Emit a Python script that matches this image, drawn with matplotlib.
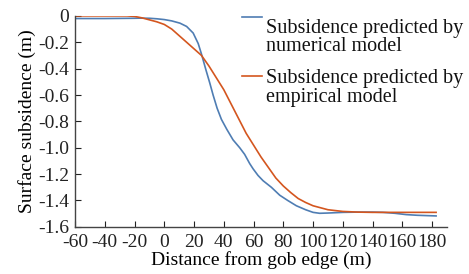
import matplotlib.pyplot as plt
from matplotlib.lines import Line2D

plt.rcParams['font.family'] = 'Liberation Serif'

# numerical model (blue)
x_num = [-60, -40, -20, -16, -10, -5, 0, 5, 10.5, 15, 19.4, 22.8, 25, 28, 30.6, 32.8, 35.5,
         38.4, 42, 46.2, 50.7, 54, 57.4, 59.7, 63, 66.4, 72, 77.6, 83, 88.8, 95, 100, 104.4,
         110, 120, 130, 140, 147, 155, 162.6, 170, 182.7]
y_num = [-0.02, -0.02, -0.018, -0.017, -0.018, -0.022, -0.028, -0.038, -0.055, -0.08, -0.13,
         -0.21, -0.29, -0.41, -0.51, -0.6, -0.7, -0.785, -0.86, -0.94, -1.0, -1.05, -1.12,
         -1.16, -1.21, -1.25, -1.30, -1.36, -1.40, -1.44, -1.47, -1.49, -1.497, -1.495,
         -1.49, -1.488, -1.488, -1.49, -1.497, -1.507, -1.512, -1.517]

# empirical model (orange)
x_emp = [-60, -40, -25, -20, -15, -10, -5, 0, 5, 10, 15, 20, 25, 30, 35, 40, 45, 50, 55,
         60, 65, 70, 75, 80, 85, 90, 95, 100, 110, 120, 130, 140, 160, 182.7]
y_emp = [0.0, 0.0, 0.0, -0.004, -0.015, -0.03, -0.045, -0.065, -0.1, -0.15, -0.2, -0.25,
         -0.3, -0.38, -0.47, -0.56, -0.67, -0.78, -0.89, -0.98, -1.07, -1.15, -1.23, -1.29,
         -1.34, -1.385, -1.415, -1.44, -1.47, -1.483, -1.488, -1.49, -1.49, -1.49]

xticks = list(range(-60, 181, 20))
yticks = [0, -0.2, -0.4, -0.6, -0.8, -1.0, -1.2, -1.4, -1.6]
ylabels = ['0', '-0.2', '-0.4', '-0.6', '-0.8', '-1.0', '-1.2', '-1.4', '-1.6']

blue = '#4f7db3'
orange = '#d4561f'

fig = plt.figure(figsize=(4.69, 2.74), dpi=100)
ax = fig.add_axes([0.16, 0.172, 0.793, 0.77])

ax.plot(x_num, y_num, color=blue, lw=1.2)
ax.plot(x_emp, y_emp, color=orange, lw=1.2)

ax.set_xlim(-60, 190)
ax.set_ylim(-1.6, 0)
ax.set_xticks(xticks)
ax.set_xticklabels([str(t) for t in xticks])
ax.set_yticks(yticks)
ax.set_yticklabels(ylabels)
ax.tick_params(direction='in', length=4, labelsize=14, colors='#222222')
ax.tick_params(axis='x', pad=5)
ax.tick_params(axis='y', pad=4)
for s in ['top', 'right']:
    ax.spines[s].set_visible(False)
for s in ['left', 'bottom']:
    ax.spines[s].set_color('#444444')
    ax.spines[s].set_linewidth(1.0)

ax.set_xlabel('Distance from gob edge (m)', fontsize=14, labelpad=0)
ax.set_ylabel('Surface subsidence (m)', fontsize=14, labelpad=2)

# legend, drawn by hand so the handle sits at the first text line
for yh, yt, col, lab in [(0.939, 0.931, blue, 'Subsidence predicted by\nnumerical model'),
                         (0.723, 0.748, orange, 'Subsidence predicted by\nempirical model')]:
    fig.add_artist(Line2D([0.515, 0.558], [yh, yh], transform=fig.transFigure,
                          color=col, lw=1.2))
    fig.text(0.568, yt, lab, fontsize=14.5, va='top', ha='left', linespacing=0.97,
             color='#111111')

fig.savefig('out.png', dpi=100)
